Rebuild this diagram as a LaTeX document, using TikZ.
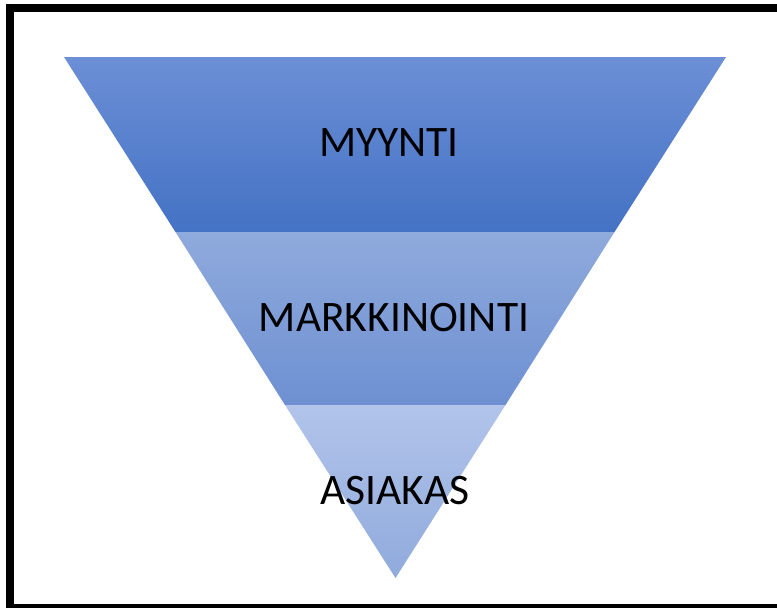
\documentclass[tikz,border=0pt]{standalone}
\usepackage{fontspec}
\setmainfont{Carlito}
\definecolor{bandAtop}{RGB}{108,143,214}
\definecolor{bandAbot}{RGB}{68,114,196}
\definecolor{bandBtop}{RGB}{143,170,220}
\definecolor{bandBbot}{RGB}{110,144,210}
\definecolor{bandCtop}{RGB}{178,196,234}
\definecolor{bandCbot}{RGB}{143,170,220}
\tikzset{
  lbl/.style={font=\fontsize{43.5}{48}\selectfont, text=black, inner sep=0pt}
}
\begin{document}
\begin{tikzpicture}[x=1pt,y=-1pt]
\useasboundingbox (0,0) rectangle (777,608);
\fill[white] (0,0) rectangle (777,608);
% funnel bands
\shade[top color=bandAtop, bottom color=bandAbot] (64,57) -- (726,57) -- (614.5,232) -- (175.5,232) -- cycle;
\shade[top color=bandBtop, bottom color=bandBbot] (175.5,232) -- (614.5,232) -- (505.5,405) -- (285,405) -- cycle;
\shade[top color=bandCtop, bottom color=bandCbot] (285,405) -- (505.5,405) -- (395.5,578) -- cycle;
% labels
\node[lbl] (myynti) at (389,143) {MYYNTI};
\node[lbl] (markkinointi) at (394,317.5) {MARKKINOINTI};
\node[lbl] (asiakas) at (395,491) {ASIAKAS};
% frame (right side lies outside the picture)
\draw[line width=8pt] (820,8) -- (10,8) -- (10,608) -- (820,608);
\end{tikzpicture}
\end{document}
